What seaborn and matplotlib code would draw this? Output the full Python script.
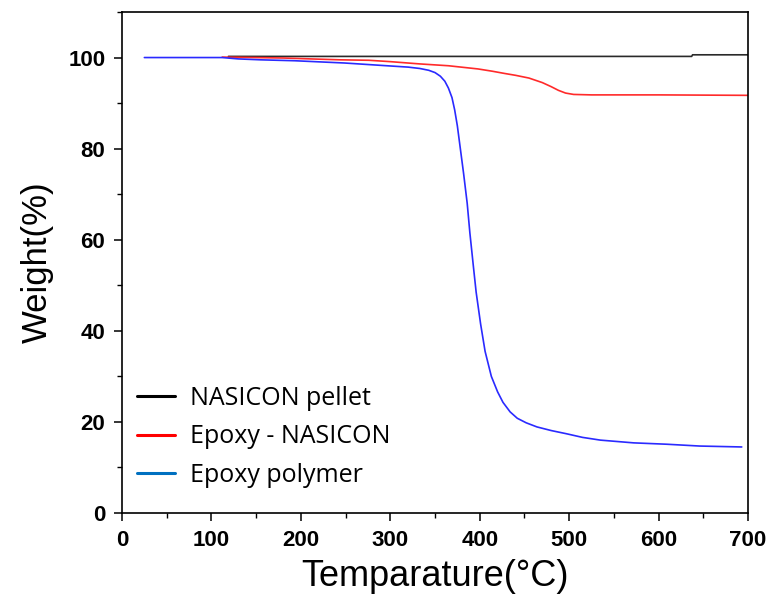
import matplotlib
matplotlib.use("Agg")
import matplotlib.pyplot as plt
import seaborn as sns
import numpy as np
import pandas as pd
from matplotlib.lines import Line2D
from matplotlib.ticker import MultipleLocator

# ---- data ----
pellet_T = [119, 200, 300, 400, 500, 600, 637, 638, 700]
pellet_W = [100.25, 100.25, 100.25, 100.25, 100.25, 100.25, 100.25, 100.6, 100.6]

epoxy_nas_T = [112, 180, 211, 244, 276, 300, 333, 365, 398, 414, 428, 440, 455, 470, 480, 488, 496, 505, 525, 600, 700]
epoxy_nas_W = [100.1, 99.9, 99.7, 99.5, 99.4, 99.1, 98.6, 98.2, 97.5, 97.0, 96.5, 96.1, 95.5, 94.5, 93.6, 92.8, 92.2, 91.9, 91.8, 91.8, 91.7]

epoxy_poly_T = [25, 112, 130, 155, 193, 249, 296, 320, 333, 343, 350, 356, 361, 365, 369, 372, 375, 378, 382, 386, 389, 393, 396, 401, 406, 413, 420, 426, 434, 442, 452, 464, 480, 497, 515, 535, 572, 609, 646, 693]
epoxy_poly_W = [100.0, 100.0, 99.7, 99.5, 99.3, 98.8, 98.2, 97.9, 97.6, 97.2, 96.7, 95.9, 94.8, 93.3, 91.2, 88.5, 85.0, 80.5, 74.5, 68.0, 61.5, 54.0, 48.5, 41.5, 35.5, 30.0, 26.6, 24.3, 22.2, 20.8, 19.8, 18.9, 18.1, 17.4, 16.6, 16.0, 15.4, 15.1, 14.7, 14.5]

labels = ["NASICON pellet", "Epoxy - NASICON", "Epoxy polymer"]
line_colors = ["#2a2a2a", "#ff2a2a", "#2a2aff"]
legend_colors = ["#000000", "#ff0000", "#0070c0"]

xticks = [0, 100, 200, 300, 400, 500, 600, 700]
yticks = [0, 20, 40, 60, 80, 100]

sns.set_style("ticks")
plt.rcParams["font.family"] = ["Liberation Sans", "DejaVu Sans"]
for k in ["text.color", "axes.labelcolor", "xtick.color", "ytick.color", "axes.edgecolor"]:
    plt.rcParams[k] = "black"

fig = plt.figure(figsize=(7.74, 6.13), dpi=100)
ax = fig.add_axes([122 / 774, 1 - 513 / 613, (748 - 122) / 774, (513 - 12) / 613])

series = [(pellet_T, pellet_W), (epoxy_nas_T, epoxy_nas_W), (epoxy_poly_T, epoxy_poly_W)]
for (t, w), c in zip(series, line_colors):
    sns.lineplot(x=t, y=w, ax=ax, color=c, lw=1.2, sort=False, estimator=None, legend=False)

ax.set_xlim(0, 700)
ax.set_ylim(0, 110)
ax.set_xticks(xticks)
ax.set_yticks(yticks)
ax.xaxis.set_minor_locator(MultipleLocator(50))
ax.yaxis.set_minor_locator(MultipleLocator(10))
ax.tick_params(which="major", direction="out", length=6, width=1.1, color="black", pad=6, labelcolor="black")
ax.tick_params(which="minor", direction="out", length=3.5, width=1.0, color="black")
for lab in ax.get_xticklabels() + ax.get_yticklabels():
    lab.set_fontweight("bold")
    lab.set_fontsize(16)
    lab.set_color("black")
for s in ax.spines.values():
    s.set_visible(True)
    s.set_linewidth(1.2)
    s.set_color("black")

ax.set_xlabel("Temparature(°C)", fontsize=26, labelpad=6, color="black")
ax.set_ylabel("Weight(%)", fontsize=25, labelpad=10, color="black")

handles = [Line2D([0], [0], color=c, lw=2.2) for c in legend_colors]
leg = ax.legend(handles, labels, loc="center left", bbox_to_anchor=(0.008, 0.152), frameon=False,
                prop={"family": ["Open Sans", "DejaVu Sans"], "size": 18},
                handlelength=1.5, handletextpad=0.6, labelspacing=0.55, borderaxespad=0.0)
for t in leg.get_texts():
    t.set_color("black")

fig.savefig("out.png", dpi=100)
